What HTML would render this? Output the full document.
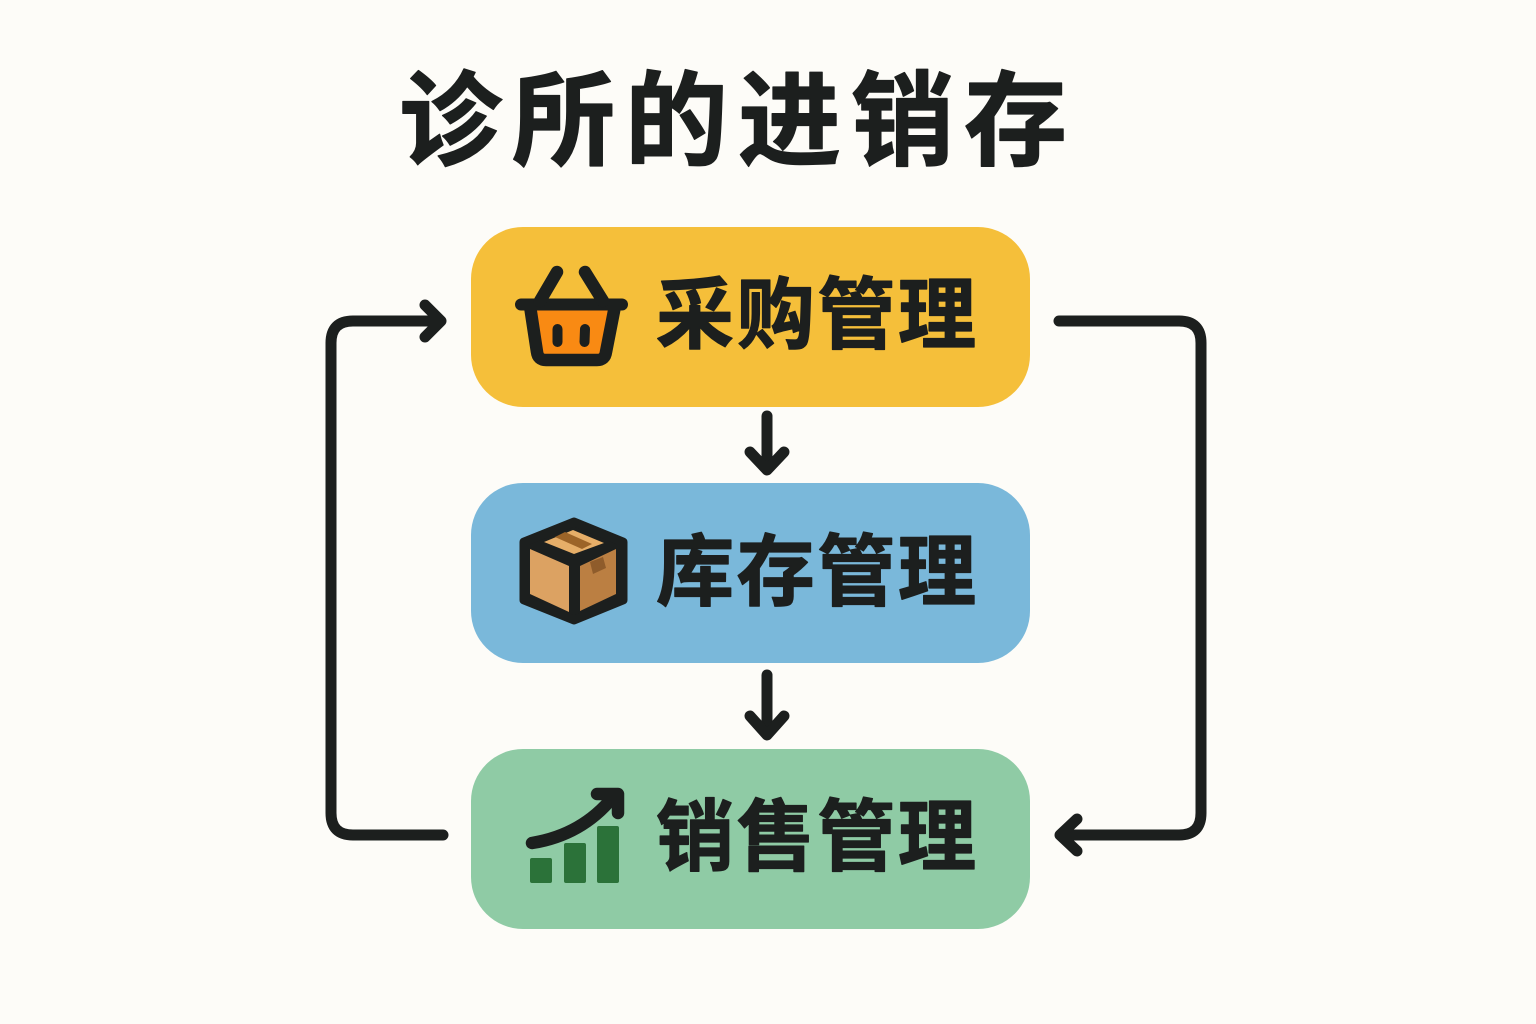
<!DOCTYPE html>
<html lang="zh">
<head>
<meta charset="utf-8">
<title>诊所的进销存</title>
<style>
html,body{margin:0;padding:0;background:#fdfcf8;width:1536px;height:1024px;overflow:hidden}
svg{display:block}
text{font-family:"Liberation Sans","Noto Sans CJK SC",sans-serif;font-weight:700;fill:#1c1f1e;stroke:#1c1f1e;stroke-width:1.300px;stroke-linejoin:round}
</style>
</head>
<body>
<svg width="1536" height="1024" viewBox="0 0 1536 1024" xmlns="http://www.w3.org/2000/svg">
<rect width="1536" height="1024" fill="#fdfcf8"/>
<text x="399" y="157" font-size="103" textLength="668" lengthAdjust="spacing">诊所的进销存</text>

<rect x="471" y="227" width="559" height="180" rx="52" fill="#f5bf3a"/>
<rect x="471" y="483" width="559" height="180" rx="52" fill="#7ab8da"/>
<rect x="471" y="749" width="559" height="180" rx="52" fill="#8fcba5"/>

<text x="656" y="342" font-size="78" textLength="320" lengthAdjust="spacing">采购管理</text>
<text x="656" y="599" font-size="78" textLength="320" lengthAdjust="spacing">库存管理</text>
<text x="656" y="864" font-size="78" textLength="320" lengthAdjust="spacing">销售管理</text>

<!-- basket -->
<polygon points="531,307 615,307 606,360 538,360" fill="#f98a13"/>
<g fill="none" stroke="#1c1f1e" stroke-linecap="round" stroke-linejoin="round">
<path d="M530,306 L537,352 Q538,360 546,360 L597,360 Q605,360 606,352 L615,306" stroke-width="12.500"/>
<path d="M521,304.500 H622" stroke-width="12"/>
<path d="M557,272 L540,301 M585,272 L603,301" stroke-width="12.500"/>
<path d="M557.500,329 V342 M585,329 L584.500,342" stroke-width="10"/>
</g>

<!-- box -->
<polygon points="574,522 623,542 623,600 574,620 524,600 524,542" fill="#1c1f1e" stroke="#1c1f1e" stroke-width="9" stroke-linejoin="round"/>
<polygon points="544,542 573,530 604,543 574,554" fill="#e6ae68"/>
<polygon points="555,537 565,532 592,544 582,549" fill="#9c6428"/>
<polygon points="530,549 569,566 569,612 530,594" fill="#dca262"/>
<polygon points="580,566 616,549 616,594 580,611" fill="#bb7f42"/>
<polygon points="590,562 603,557 606,568 593,574" fill="#8f5c2b"/>

<!-- chart -->
<rect x="530" y="858" width="22" height="25" rx="2" fill="#2b7239"/>
<rect x="564" y="843" width="22" height="40" rx="2" fill="#2b7239"/>
<rect x="597" y="826" width="22" height="57" rx="2" fill="#2b7239"/>
<g fill="none" stroke="#1c1f1e" stroke-linecap="round" stroke-linejoin="round" stroke-width="12.500">
<path d="M532,843 Q582,835 613,797"/>
<path d="M597,794 H618 V813"/>
</g>

<!-- connectors -->
<g fill="none" stroke="#1c1f1e" stroke-width="11" stroke-linecap="round" stroke-linejoin="round">
<path d="M1059,321 H1179 Q1201,321 1201,343 V813 Q1201,835 1179,835 H1062"/>
<path d="M1077,819 L1060,835 L1077,851"/>
<path d="M443,835 H353 Q331,835 331,813 V343 Q331,321 353,321 H438"/>
<path d="M425,305 L441,321 L425,337"/>
<path d="M767,416 V468"/>
<path d="M750,452 L767,470 L784,452"/>
<path d="M767,675 V733"/>
<path d="M750,716 L767,735 L784,716"/>
</g>
</svg>
</body>
</html>
